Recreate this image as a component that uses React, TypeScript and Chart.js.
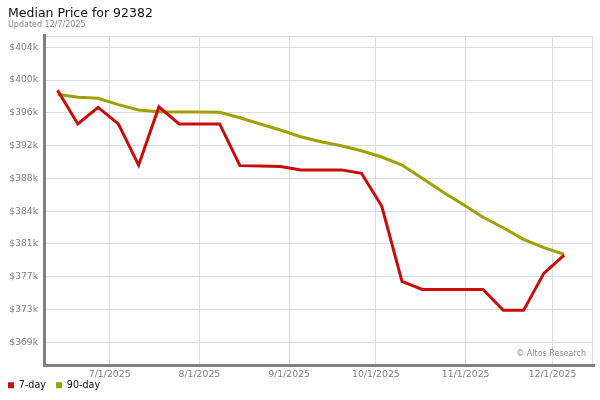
import React, { useEffect, useRef } from "react";
import { Chart, registerables } from "chart.js";

Chart.register(...registerables);

// ---- data ----
const weekDates = [
  "6/13/2025", "6/20/2025", "6/27/2025", "7/4/2025", "7/11/2025", "7/18/2025", "7/25/2025",
  "8/1/2025", "8/8/2025", "8/15/2025", "8/22/2025", "8/29/2025", "9/5/2025", "9/12/2025",
  "9/19/2025", "9/26/2025", "10/3/2025", "10/10/2025", "10/17/2025", "10/24/2025",
  "10/31/2025", "11/7/2025", "11/14/2025", "11/21/2025", "11/28/2025", "12/5/2025",
];

const sevenDay = [
  398600, 394650, 396600, 394650, 389800, 396650, 394650, 394650, 394650, 389750,
  389700, 389650, 389250, 389250, 389250, 388850, 385000, 376150, 375200, 375200,
  375200, 375200, 372750, 372750, 377100, 379250,
];

const ninetyDay = [
  398130, 397780, 397660, 396910, 396290, 396090, 396050, 396050, 396020, 395380,
  394640, 393940, 393150, 392560, 392090, 391500, 390760, 389820, 388260, 386690,
  385210, 383680, 382460, 381100, 380110, 379340,
];

const yTickValues = [369000, 372850, 376700, 380550, 384400, 388250, 392100, 395950, 399800, 403650];
const yTickLabels = ["$369k", "$373k", "$377k", "$381k", "$384k", "$388k", "$392k", "$396k", "$400k", "$404k"];

const xTickLabels = ["7/1/2025", "8/1/2025", "9/1/2025", "10/1/2025", "11/1/2025", "12/1/2025"];

const seriesNames = ["7-day", "90-day"];
const titleText = "Median Price for 92382";
const subtitleText = "Updated 12/7/2025";
const watermarkText = "\u00A9 Altos Research";

const xRangeStart = "6/9/2025";
const xRangeEnd = "12/15/2025";
const yRangeMin = 366451;
const yRangeMax = 404977;

// ---- helpers ----
const dayOf = (s: string) => {
  const [m, d, y] = s.split("/").map(Number);
  return Date.UTC(y, m - 1, d) / 86400000;
};

const FONT = "'DejaVu Sans', Verdana, sans-serif";

const framePlugin = {
  id: "frame",
  afterLayout(chart: any) {
    const l = chart.legend;
    if (l) {
      l.left -= 10;
      l.right -= 10;
    }
    const xs = chart.scales.x;
    if (xs) xs.bottom += 16;
  },
  beforeDatasetsDraw(chart: any) {
    const { ctx, chartArea } = chart;
    const { left, right, top, bottom } = chartArea;
    ctx.save();
    ctx.strokeStyle = "#dcdcdc";
    ctx.lineWidth = 1;
    ctx.beginPath();
    ctx.moveTo(left, top + 0.5);
    ctx.lineTo(right - 0.5, top + 0.5);
    ctx.lineTo(right - 0.5, bottom);
    ctx.stroke();
    ctx.fillStyle = "#808080";
    ctx.fillRect(left - 3, top - 2, 3, bottom - top + 5);
    ctx.fillRect(left - 3, bottom, right - left + 5, 3);
    ctx.font = "8px " + FONT;
    ctx.fillStyle = "#888888";
    ctx.textAlign = "right";
    ctx.textBaseline = "middle";
    ctx.fillText(watermarkText, right - 7, bottom - 10);
    ctx.restore();
  },
};

export default function App() {
  const ref = useRef<HTMLCanvasElement | null>(null);

  useEffect(() => {
    document.body.style.margin = "0";
    const canvas = ref.current;
    if (!canvas) return;
    const xs = weekDates.map(dayOf);
    const xTickValues = xTickLabels.map(dayOf);

    const chart = new Chart(canvas, {
      type: "line",
      data: {
        datasets: [
          {
            label: seriesNames[0],
            data: xs.map((x, i) => ({ x, y: sevenDay[i] })),
            borderColor: "#c80c0c",
            backgroundColor: "#c80c0c",
            borderWidth: 3,
            pointRadius: 0,
            tension: 0,
          },
          {
            label: seriesNames[1],
            data: xs.map((x, i) => ({ x, y: ninetyDay[i] })),
            borderColor: "#a0a000",
            backgroundColor: "#a0a000",
            borderWidth: 3,
            pointRadius: 0,
            tension: 0,
          },
        ],
      },
      options: {
        responsive: false,
        animation: false,
        devicePixelRatio: 1,
        layout: { padding: { left: 8, right: 7, top: 0, bottom: 0 } },
        font: { family: FONT },
        scales: {
          x: {
            type: "linear",
            min: dayOf(xRangeStart),
            max: dayOf(xRangeEnd),
            afterBuildTicks: (scale: any) => {
              scale.ticks = xTickValues.map((v) => ({ value: v }));
            },
            afterFit: (scale: any) => {
              scale.height = 6.4;
            },
            grid: { color: "#dcdcdc", lineWidth: 1, drawTicks: false },
            border: { display: false },
            ticks: {
              padding: 5,
              color: "#808080",
              font: { family: FONT, size: 9.3 },
              maxRotation: 0,
              autoSkip: false,
              callback: (_v: any, i: number) => xTickLabels[i],
            },
          },
          y: {
            type: "linear",
            min: yRangeMin,
            max: yRangeMax,
            afterBuildTicks: (scale: any) => {
              scale.ticks = yTickValues.map((v) => ({ value: v }));
            },
            afterFit: (scale: any) => {
              scale.width = 38;
            },
            grid: { color: "#dcdcdc", lineWidth: 1, drawTicks: false },
            border: { display: false },
            ticks: {
              padding: 8,
              color: "#808080",
              font: { family: FONT, size: 9.2 },
              autoSkip: false,
              callback: (_v: any, i: number) => yTickLabels[i],
            },
          },
        },
        plugins: {
          title: {
            display: true,
            text: titleText,
            align: "start",
            color: "#111111",
            font: { family: FONT, size: 12.5, weight: "normal", lineHeight: 1 },
            padding: { top: 7, bottom: 0 },
          },
          subtitle: {
            display: true,
            text: subtitleText,
            align: "start",
            color: "#888888",
            font: { family: FONT, size: 8, weight: "normal", lineHeight: 1 },
            padding: { top: 1, bottom: 7.5 },
          },
          legend: {
            display: true,
            position: "bottom",
            align: "start",
            labels: {
              boxWidth: 6,
              boxHeight: 6,
              padding: 10,
              color: "#111111",
              font: { family: FONT, size: 9.6 },
              generateLabels: (c: any) =>
                Chart.defaults.plugins.legend.labels
                  .generateLabels(c)
                  .map((it: any) => ({ ...it, lineWidth: 0 })),
            },
          },
          tooltip: { enabled: false },
        },
      },
      plugins: [framePlugin],
    } as any);

    return () => chart.destroy();
  }, []);

  return (
    <div style={{ width: 600, height: 400, position: "relative", background: "#ffffff" }}>
      <canvas ref={ref} width={600} height={400} style={{ display: "block" }} />
    </div>
  );
}
